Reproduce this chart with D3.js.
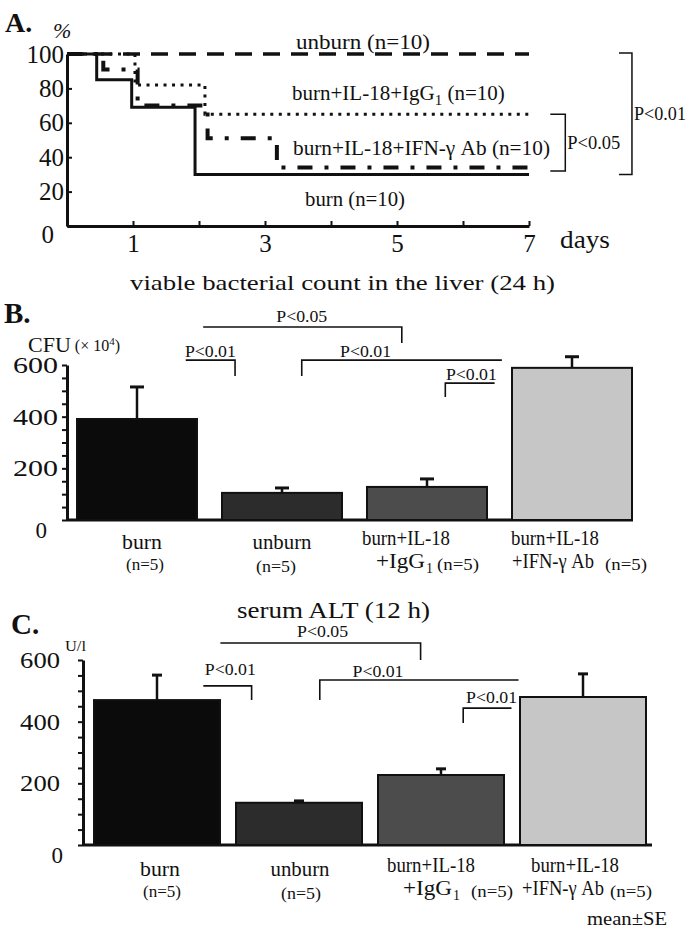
<!DOCTYPE html>
<html>
<head>
<meta charset="utf-8">
<script src="https://cdn.jsdelivr.net/npm/d3@7"></script>
<style>
  body { margin: 0; background: #fff; }
</style>
</head>
<body>
<div id="chart"></div>
<script>
var SERIF = "'Liberation Serif', 'Times New Roman', Times, 'DejaVu Serif', serif";

// ---- data ----
// A: survival curves (day, % alive), step after
var survUnburn = [[0, 100], [7, 100]];
var survIgG = [[0, 100], [1.03, 82], [2.09, 65], [7.05, 65]];
var survIFN = [[0, 100], [0.55, 91], [1.07, 70], [2.13, 51], [3.18, 34], [7.15, 34]];
var survBurn = [[0, 100], [0.45, 85], [0.98, 69], [1.94, 30], [7, 30]];
var survTicks = [0, 20, 40, 60, 80, 100];
var dayTicks = [1, 2, 3, 4, 5, 6, 7];

// B / C: bars
var groups = ["burn", "unburn", "IgG", "IFN"];
var cfuMean = [391, 105, 128, 589];
var cfuSE = [124, 19, 31, 43];
var altMean = [470, 137, 227, 480];
var altSE = [81, 6, 20, 75];
var barFill = ["#0b0b0b", "#2c2c2c", "#4c4c4c", "#c6c6c6"];
var barTicks = [0, 50, 100, 150, 200, 250, 300, 350, 400, 450, 500, 550, 600];

// brackets: [x1, x2] in bar-index units, y in data units, drop ends
var cfuBrackets = [
  { label: "P<0.05", x1: 0.87, x2: 2.24, y: 747, dropL: null, dropR: 685, lx: 1.55, ldy: -5 },
  { label: "P<0.01", x1: 0.75, x2: 1.09, y: 619, dropL: null, dropR: 557, lx: 0.92, ldy: -3 },
  { label: "P<0.01", x1: 1.55, x2: 2.93, y: 619, dropL: 557, dropR: null, lx: 1.99, ldy: -3 },
  { label: "P<0.01", x1: 2.54, x2: 2.88, y: 530, dropL: 476, dropR: null, lx: 2.72, ldy: -3 }
];
var altBrackets = [
  { label: "P<0.05", x1: 0.89, x2: 2.30, y: 655, dropL: null, dropR: 600, lx: 1.61, ldy: -6 },
  { label: "P<0.01", x1: 0.77, x2: 1.11, y: 516, dropL: null, dropR: 470, lx: 0.96, ldy: -11 },
  { label: "P<0.01", x1: 1.59, x2: 2.99, y: 535, dropL: 470, dropR: null, lx: 2.0, ldy: -3 },
  { label: "P<0.01", x1: 2.60, x2: 2.94, y: 444, dropL: 396, dropR: null, lx: 2.8, ldy: -5 }
];

var svg = d3.select("#chart").append("svg")
  .attr("width", 686).attr("height", 935)
  .attr("font-family", SERIF);

// text helper; width stretches the scanned-looking wide lettering
function txt(x, y, s, size, anchor, weight, width) {
  var t = svg.append("text").attr("x", x).attr("y", y)
    .attr("font-family", SERIF).style("font-family", SERIF)
    .attr("fill", "#111")
    .attr("font-size", size).attr("text-anchor", anchor || "start")
    .attr("font-weight", weight || "normal").text(s);
  if (width) t.attr("textLength", width).attr("lengthAdjust", "spacingAndGlyphs");
  return t;
}

function styleAxisText(a, size) {
  a.attr("font-family", SERIF);
  a.selectAll("text").attr("font-size", size).attr("fill", "#111")
    .attr("font-family", SERIF).style("font-family", SERIF);
}

// ================= Panel A =================
var xA = d3.scaleLinear().domain([0, 7]).range([67, 529]);
var yA = d3.scaleLinear().domain([0, 100]).range([226, 54]);

txt(5, 32, "A.", 28, "start", "bold");
txt(53, 38, "%", 22).attr("font-style", "italic");

var stepLine = d3.line()
  .x(function(d) { return xA(d[0]); })
  .y(function(d) { return yA(d[1]); })
  .curve(d3.curveStepAfter);

var survSeries = [
  { data: survIgG, width: 3, dash: "3,5.5" },
  { data: survIFN, width: 4, dash: "15,12,4,12" },
  { data: survBurn, width: 3, dash: null },
  { data: survUnburn, width: 3.5, dash: "17,11" }
];
survSeries.forEach(function(s) {
  svg.append("path").datum(s.data)
    .attr("d", stepLine)
    .attr("fill", "none")
    .attr("stroke", "#111")
    .attr("stroke-width", s.width)
    .attr("stroke-dasharray", s.dash);
});

var yAxisA = svg.append("g").attr("transform", "translate(" + xA(0) + ",0)")
  .call(d3.axisLeft(yA).tickValues(survTicks).tickSizeInner(-5).tickSizeOuter(0).tickPadding(3));
var xAxisA = svg.append("g").attr("transform", "translate(0," + yA(0) + ")")
  .call(d3.axisBottom(xA).tickValues(dayTicks).tickSizeInner(-5).tickSizeOuter(0).tickPadding(8)
    .tickFormat(function(d) { return d % 2 ? d : ""; }));
[yAxisA, xAxisA].forEach(function(a) {
  a.select(".domain").attr("stroke", "#111").attr("stroke-width", 3);
  a.selectAll(".tick line").attr("stroke", "#111").attr("stroke-width", 2);
  styleAxisText(a, 25);
});
yAxisA.selectAll(".tick").filter(function(d) { return d === 0; }).select("text")
  .attr("dx", -10).attr("dy", "0.65em");
txt(560, 248, "days", 26, "start", "normal", 50);

// series labels
txt(296, 49, "unburn (n=10)", 21, "start", "normal", 134);
var igLab = txt(292, 100, "burn+IL-18+IgG", 21);
igLab.append("tspan").attr("font-size", 15).attr("dy", 5).text("1");
igLab.append("tspan").attr("dy", -5).text(" (n=10)");
txt(293, 155, "burn+IL-18+IFN-\u03b3 Ab (n=10)", 21, "start", "normal", 257);
txt(305, 206, "burn (n=10)", 21, "start", "normal", 100);

// brackets A
function bracketA(day, top, bottom, tick, label, w) {
  var x = xA(day);
  svg.append("path")
    .attr("d", "M" + (x - tick) + "," + yA(top) + "H" + x + "V" + yA(bottom) + "H" + (x - tick))
    .attr("fill", "none").attr("stroke", "#111").attr("stroke-width", 1.5);
  txt(x + 2, (yA(top) + yA(bottom)) / 2 + 6, label, 18, "start", "normal", w);
}
bracketA(8.56, 100.6, 30, 13, "P<0.01", 52);
bracketA(7.55, 65, 32, 15, "P<0.05", 53);

// ================= bar panels =================
function barPanel(o) {
  var step = o.step;
  var xi = function(i) { return o.x0 + i * step; };
  var y = d3.scaleLinear().domain([0, 600]).range([o.y0, o.y600]);
  var x = d3.scaleBand().domain(groups).range([o.x0, o.x0 + 3 * step + o.bw]).paddingInner(1 - o.bw / step).paddingOuter(0);

  var yAx = svg.append("g").attr("transform", "translate(" + o.axisX + ",0)")
    .call(d3.axisLeft(y).tickValues(barTicks).tickSizeInner(5).tickSizeOuter(0).tickPadding(o.pad)
      .tickFormat(function(d) { return d % 200 === 0 ? d : ""; }));
  yAx.select(".domain").attr("stroke", "#111").attr("stroke-width", 3);
  yAx.selectAll(".tick line").attr("stroke", "#111").attr("stroke-width", 2);
  styleAxisText(yAx, 23);
  yAx.selectAll("text").each(function(d) {
    var s = String(d);
    if (s.length > 1) d3.select(this).attr("textLength", s.length * o.digitW).attr("lengthAdjust", "spacingAndGlyphs");
  });
  yAx.selectAll(".tick").filter(function(d) { return d === 0; }).select("text")
    .attr("dx", o.zeroDx).attr("dy", "0.75em");

  // baseline
  svg.append("line").attr("x1", o.axisX).attr("x2", o.baseEnd)
    .attr("y1", y(0)).attr("y2", y(0)).attr("stroke", "#111").attr("stroke-width", 3);

  // bars
  svg.selectAll(null).data(groups).enter().append("rect")
    .attr("x", function(d) { return x(d); })
    .attr("y", function(d, i) { return y(o.mean[i]); })
    .attr("width", x.bandwidth())
    .attr("height", function(d, i) { return y(0) - y(o.mean[i]); })
    .attr("fill", function(d, i) { return barFill[i]; })
    .attr("stroke", "#111").attr("stroke-width", 2);

  // error bars
  groups.forEach(function(g, i) {
    var cx = x(g) + x.bandwidth() / 2;
    svg.append("line").attr("x1", cx).attr("x2", cx)
      .attr("y1", y(o.mean[i])).attr("y2", y(o.mean[i] + o.se[i]))
      .attr("stroke", "#111").attr("stroke-width", 2.5);
    svg.append("line").attr("x1", cx - o.cap).attr("x2", cx + o.cap)
      .attr("y1", y(o.mean[i] + o.se[i])).attr("y2", y(o.mean[i] + o.se[i]))
      .attr("stroke", "#111").attr("stroke-width", 3);
  });

  // brackets
  o.brackets.forEach(function(b) {
    var p = "M" + xi(b.x1) + "," + (b.dropL !== null ? y(b.dropL) : y(b.y)) +
      "V" + y(b.y) + "H" + xi(b.x2) + "V" + (b.dropR !== null ? y(b.dropR) : y(b.y));
    svg.append("path").attr("d", p).attr("fill", "none")
      .attr("stroke", "#111").attr("stroke-width", 1.6);
    txt(xi(b.lx), y(b.y) + b.ldy, b.label, 17, "middle", "normal", 51);
  });

  // category labels (offsets from bar centres / edges)
  var ly = o.labelY, L = o.lab, c = function(g) { return x(g) + x.bandwidth() / 2; };
  txt(c("burn") + L.burn, ly + 4, "burn", 20, "middle", "normal", 40);
  txt(c("burn") + L.burnN, ly + 25, "(n=5)", 16, "middle", "normal", 38);
  txt(c("unburn") + L.unburn, ly + 4, "unburn", 20, "middle", "normal", 59);
  txt(c("unburn") + L.unburnN, ly + 27, "(n=5)", 16, "middle", "normal", 40);
  txt(c("IgG") + L.ig, ly, "burn+IL-18", 20, "middle", "normal", 88);
  txt(x("IgG") + L.igSub, ly + 23, "+IgG", 20, "start", "normal", 49);
  txt(x("IgG") + L.igSub + 50, ly + 28, "1", 14);
  txt(x("IgG") + L.igN, ly + 25, "(n=5)", 16, "start", "normal", 42);
  txt(c("IFN") + L.ifn, ly, "burn+IL-18", 20, "middle", "normal", 88);
  txt(x("IFN") + L.ifnSub, ly + 23, "+IFN-\u03b3 Ab", 20, "start", "normal", 82);
  txt(x("IFN") + L.ifnN, ly + 25, "(n=5)", 16, "start", "normal", 42);
}

// Panel B
txt(130, 290, "viable bacterial count in the liver (24 h)", 22, "start", "normal", 425);
txt(4, 323, "B.", 29, "start", "bold");
var cfu = txt(28, 352, "CFU", 22);
cfu.append("tspan").attr("font-size", 16).attr("dx", 4).attr("dy", -1).text("(\u00d7 10");
cfu.append("tspan").attr("font-size", 11).attr("dy", -6).text("4");
cfu.append("tspan").attr("font-size", 16).attr("dy", 6).text(")");

barPanel({
  x0: 77, step: 145, bw: 120, axisX: 67, y0: 520, y600: 365, baseEnd: 633,
  mean: cfuMean, se: cfuSE, brackets: cfuBrackets, cap: 7, digitW: 15, zeroDx: -11, pad: 4,
  labelY: 545,
  lab: { burn: 5, burnN: 8, unburn: 0, unburnN: -6, ig: -21, igSub: 9, igN: 70, ifn: -17, ifnSub: 0, ifnN: 93 }
});

// Panel C
txt(237, 618, "serum ALT (12 h)", 23, "start", "normal", 193);
txt(11, 634, "C.", 29, "start", "bold");
txt(65, 651, "U/l", 15, "start", "normal", 21);

barPanel({
  x0: 94, step: 142, bw: 126, axisX: 83, y0: 845, y600: 660, baseEnd: 652,
  mean: altMean, se: altSE, brackets: altBrackets, cap: 5, digitW: 13.3, zeroDx: 3, pad: 18,
  labelY: 872,
  lab: { burn: 3, burnN: 5, unburn: 1, unburnN: 2, ig: -10, igSub: 25, igN: 93, ifn: -8, ifnSub: 2, ifnN: 90 }
});

txt(587, 925, "mean\u00b1SE", 19, "start", "normal", 80);
</script>
</body>
</html>
